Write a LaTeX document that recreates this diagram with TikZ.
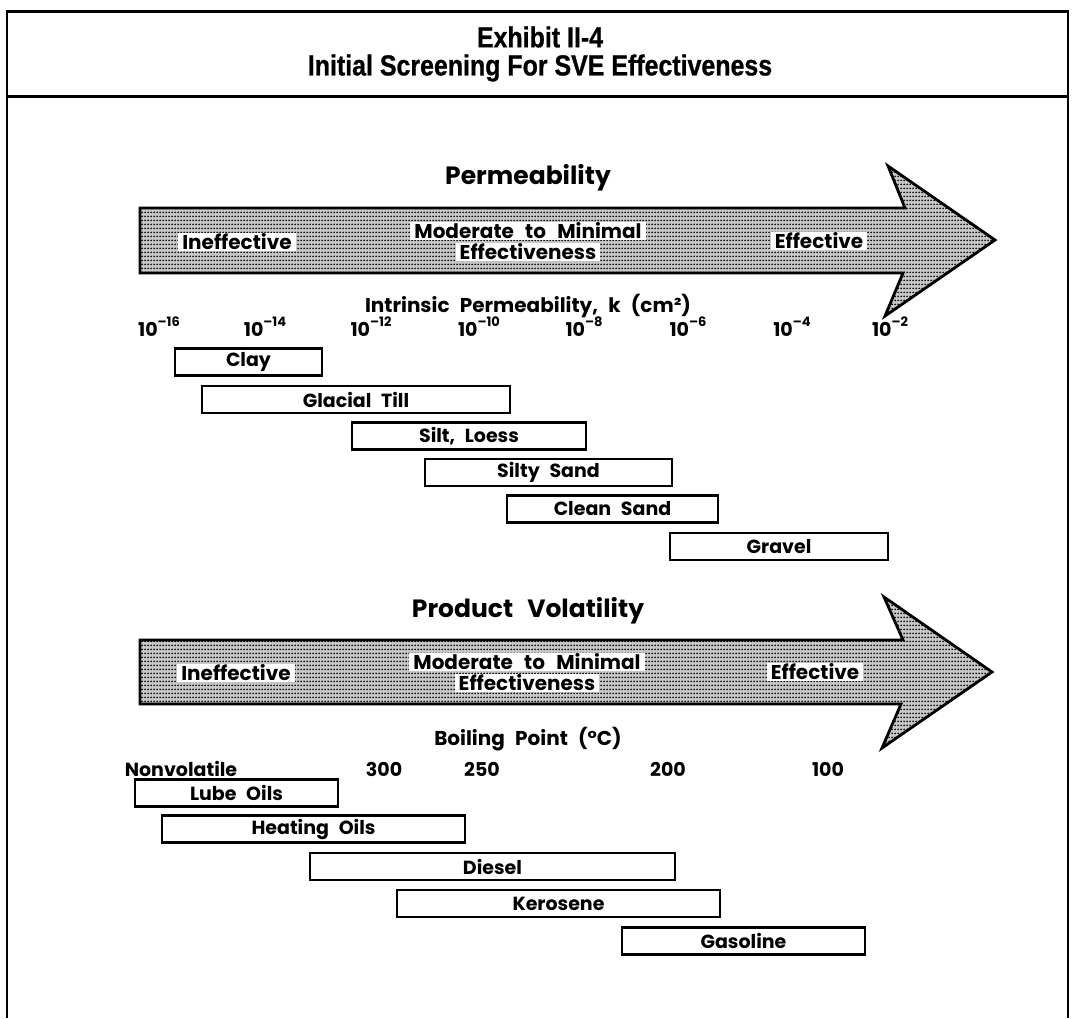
\documentclass[tikz,border=0pt]{standalone}
\usepackage{fontspec}
\setmainfont{Poppins}
\newfontfamily\titlefont[FakeStretch=0.86,FakeBold=0.8]{Liberation Sans}
\usetikzlibrary{patterns.meta}
\tikzdeclarepattern{
  name=stipple,
  type=uncolored,
  bounding box={(0pt,0pt) and (3pt,4pt)},
  tile size={(3pt,4pt)},
  code={\pgfpathcircle{\pgfpoint{1.5pt}{2pt}}{1.2pt}\pgfusepath{fill}}
}
\newcommand\expo[1]{\raisebox{0.5em}{\fontsize{13}{13}\selectfont #1}}
\begin{document}
\begin{tikzpicture}[x=1pt,y=-1pt,
  titletext/.style={font=\titlefont\bfseries\fontsize{29}{31}\selectfont, inner sep=0},
  headtext/.style={font=\bfseries\fontsize{25}{28}\selectfont, inner sep=0},
  axistext/.style={font=\bfseries\fontsize{20}{22}\selectfont, inner sep=0},
  ticktext/.style={font=\bfseries\fontsize{19}{21}\selectfont, inner sep=0, anchor=base},
  intext/.style={font=\bfseries\fontsize{20}{22}\selectfont, fill=white, inner xsep=4pt, inner ysep=1pt},
  rangebox/.style={draw, line width=2.4pt, minimum height=27, inner sep=0, font=\bfseries\fontsize{19}{20}\selectfont},
  bigarrow/.style={draw, line width=2.8pt, line join=miter, preaction={fill=black!22}, pattern=stipple, pattern color=black},
  framed/.style={line width=1.8pt},
  rule/.style={line width=3pt}
]
\useasboundingbox (0,0) rectangle (1078,1018);
% frame
\draw[framed] (7,1018) -- (7,11) -- (1068,11) -- (1068,1018);
\draw[rule] (7,11) -- (1068,11);
\node[titletext] (t1) at (540,37) {Exhibit II-4};
\node[titletext] (t2) at (540,68) {Initial Screening For SVE Effectiveness};
\draw[rule] (7,96) -- (1068,96);

% ---------- Permeability ----------
\node[headtext] (perm) at (528,178) {Permeability};
\draw[bigarrow] (140,208) -- (905,208) -- (888,166) -- (995,240) -- (885,316) -- (903,273) -- (140,273) -- cycle;
\node[intext] (p-in) at (237,242) {Ineffective};
\node[intext] (p-mod) at (528,231) {Moderate\hspace{0.35em} to\hspace{0.35em} Minimal};
\node[intext] (p-eff2) at (528,252) {Effectiveness};
\node[intext] (p-eff) at (819,241) {Effective};
\node[axistext] (kax) at (528,306) {Intrinsic\hspace{0.3em} Permeability,\hspace{0.3em} k\hspace{0.3em} (cm²)};
\node[ticktext] (k16) at (159,336) {10\expo{–16}};
\node[ticktext] (k14) at (265,336) {10\expo{–14}};
\node[ticktext] (k12) at (371,336) {10\expo{–12}};
\node[ticktext] (k10) at (479,336) {10\expo{–10}};
\node[ticktext] (k8) at (584,336) {10\expo{–8}};
\node[ticktext] (k6) at (688,336) {10\expo{–6}};
\node[ticktext] (k4) at (792,336) {10\expo{–4}};
\node[ticktext] (k2) at (890,336) {10\expo{–2}};

\node[rangebox, minimum width=147] (clay) at (248.5,362) {Clay};
\node[rangebox, minimum width=308] (till) at (356,399.5) {Glacial\hspace{0.3em} Till};
\node[rangebox, minimum width=234] (silt) at (469,436) {Silt,\hspace{0.3em} Loess};
\node[rangebox, minimum width=247] (siltysand) at (548.5,472.5) {Silty\hspace{0.3em} Sand};
\node[rangebox, minimum width=211] (cleansand) at (612.5,509) {Clean\hspace{0.3em} Sand};
\node[rangebox, minimum width=218] (gravel) at (779,546.5) {Gravel};

% ---------- Product Volatility ----------
\node[headtext] (vol) at (528,611) {Product\hspace{0.35em} Volatility};
\draw[bigarrow] (140,640) -- (903,640) -- (884,597) -- (992,672) -- (882,748) -- (901,704) -- (140,704) -- cycle;
\node[intext] (v-in) at (236,673) {Ineffective};
\node[intext] (v-mod) at (527,662) {Moderate\hspace{0.35em} to\hspace{0.35em} Minimal};
\node[intext] (v-eff2) at (527,683) {Effectiveness};
\node[intext] (v-eff) at (815,672) {Effective};
\node[axistext] (bp) at (528,739) {Boiling\hspace{0.3em} Point\hspace{0.3em} (°C)};
\node[ticktext] (nv) at (181,776) {Nonvolatile};
\node[ticktext] (b300) at (384,776) {300};
\node[ticktext] (b250) at (482,776) {250};
\node[ticktext] (b200) at (668,776) {200};
\node[ticktext] (b100) at (828,776) {100};

\node[rangebox, minimum width=203] (lube) at (236.5,793) {Lube\hspace{0.3em} Oils};
\node[rangebox, minimum width=303] (heat) at (313.5,829) {Heating\hspace{0.3em} Oils};
\node[rangebox, minimum width=365] (diesel) at (492.5,866.5) {Diesel};
\node[rangebox, minimum width=323] (kero) at (558.5,903.5) {Kerosene};
\node[rangebox, minimum width=243] (gas) at (743.5,941) {Gasoline};
\end{tikzpicture}
\end{document}
